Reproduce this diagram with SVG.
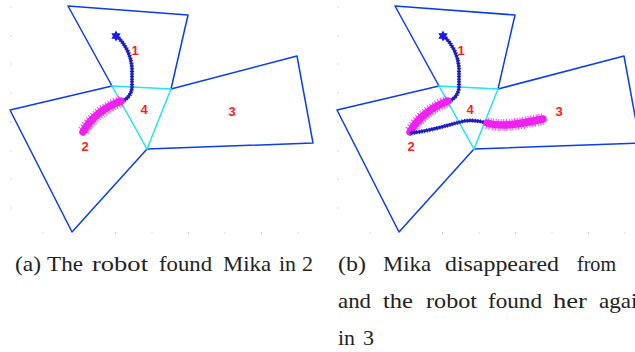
<svg xmlns="http://www.w3.org/2000/svg" width="635" height="352" viewBox="0 0 635 352">
<style>
.edge{fill:none;stroke:#0a3cf0;stroke-width:1.5;stroke-linejoin:round}
.cy{fill:none;stroke:#22e4f4;stroke-width:1.5}
.lbl{font-weight:bold;font-size:13px;fill:#ff1a1a;text-anchor:middle}
.cap{font-size:21px;fill:#222}
.tb{fill:none;stroke:#2424c8;stroke-width:2.8;stroke-linecap:round}
.tbd{fill:none;stroke:#1818b8;stroke-width:4.2;stroke-dasharray:1 1.6}
.tm{fill:none;stroke:#ee22ee;stroke-width:7.5;stroke-linecap:round}
.tmd{fill:none;stroke:#ff33ff;stroke-width:12;stroke-dasharray:1 1.8}
.dot{fill:#aaaaaa}
</style>
<defs>
<g id="ticks">
<rect class="dot" x="10.5" y="6.5" width="1" height="1"/>
<rect class="dot" x="10.5" y="35.5" width="1" height="1"/>
<rect class="dot" x="10.5" y="63.5" width="1" height="1"/>
<rect class="dot" x="10.5" y="92.5" width="1" height="1"/>
<rect class="dot" x="10.5" y="121.5" width="1" height="1"/>
<rect class="dot" x="10.5" y="150.5" width="1" height="1"/>
<rect class="dot" x="10.5" y="178.5" width="1" height="1"/>
<rect class="dot" x="10.5" y="207.5" width="1" height="1"/>
<rect class="dot" x="42.5" y="232.5" width="1" height="1"/>
<rect class="dot" x="115" y="232.5" width="1" height="1"/>
<rect class="dot" x="151.5" y="232.5" width="1" height="1"/>
<rect class="dot" x="188" y="232.5" width="1" height="1"/>
<rect class="dot" x="224.5" y="232.5" width="1" height="1"/>
<rect class="dot" x="261" y="232.5" width="1" height="1"/>
<rect class="dot" x="297.5" y="232.5" width="1" height="1"/>
</g>
<g id="map">
<path class="edge" d="M112,86 L68,6 L188,15 L171,89"/>
<path class="edge" d="M112,86 L10,110 L72,232 L147,149"/>
<path class="edge" d="M171,89 L297,56 L313,143 L147,149"/>
<path class="cy" d="M112,86 L171,89 L147,149 Z"/>
</g>
<polygon id="hexstar" points="0,-5.5 1.5,-2.7 4.7,-2.7 3.1,0 4.7,2.7 1.5,2.7 0,5.5 -1.5,2.7 -4.7,2.7 -3.1,0 -4.7,-2.7 -1.5,-2.7" fill="#1a1ae6"/>
<g id="trackA">
<path class="tb" d="M117,36 C125,44 131,54 132,68 L132,88 C131,96 126,100 120,102"/>
<path class="tbd" d="M117,36 C125,44 131,54 132,68 L132,88 C131,96 126,100 120,102"/>
<path class="tmd" d="M121,101 C108,106 92,116 83,132"/>
<path class="tm" d="M121,101 C108,106 92,116 83,132"/>
<use href="#hexstar" x="116" y="36"/>
</g>
</defs>

<g id="panel-a">
<use href="#ticks"/>
<use href="#map"/>
<use href="#trackA"/>
<g id="labels-a" font-family="Liberation Sans, Arial, sans-serif">
<text class="lbl" x="135" y="54.5">1</text>
<text class="lbl" x="144" y="113.5">4</text>
<text class="lbl" x="232" y="115.5">3</text>
<text class="lbl" x="85" y="150.5">2</text>
</g>
</g>

<g id="panel-b">
<use href="#ticks" x="327"/>
<use href="#map" x="327"/>
<use href="#trackA" x="327"/>
<g id="trackB">
<path class="tb" d="M411,133 C430,131 445,126 460,122 C470,119 480,121 487,123"/>
<path class="tbd" d="M411,133 C430,131 445,126 460,122 C470,119 480,121 487,123"/>
<path class="tmd" d="M487,123 C500,127 515,125 543,119"/>
<path class="tm" d="M487,123 C500,127 515,125 543,119"/>
</g>
<g id="labels-b" font-family="Liberation Sans, Arial, sans-serif">
<text class="lbl" x="461" y="54.5">1</text>
<text class="lbl" x="470" y="113.5">4</text>
<text class="lbl" x="559" y="115.5">3</text>
<text class="lbl" x="411" y="150.5">2</text>
</g>
</g>

<g id="captions" font-family="Liberation Serif, Times New Roman, serif">
<text class="cap" y="271"><tspan x="15" textLength="26" lengthAdjust="spacingAndGlyphs">(a)</tspan><tspan x="47" textLength="36" lengthAdjust="spacingAndGlyphs">The</tspan><tspan x="92" textLength="56" lengthAdjust="spacingAndGlyphs">robot</tspan><tspan x="159" textLength="53" lengthAdjust="spacingAndGlyphs">found</tspan><tspan x="223" textLength="48" lengthAdjust="spacingAndGlyphs">Mika</tspan><tspan x="279" textLength="17" lengthAdjust="spacingAndGlyphs">in</tspan><tspan x="302" textLength="11" lengthAdjust="spacingAndGlyphs">2</tspan></text>
<text class="cap" y="271"><tspan x="338" textLength="28" lengthAdjust="spacingAndGlyphs">(b)</tspan><tspan x="383" textLength="48" lengthAdjust="spacingAndGlyphs">Mika</tspan><tspan x="445" textLength="114" lengthAdjust="spacingAndGlyphs">disappeared</tspan><tspan x="577" textLength="39" lengthAdjust="spacingAndGlyphs">from</tspan></text>
<text class="cap" y="308"><tspan x="338" textLength="33" lengthAdjust="spacingAndGlyphs">and</tspan><tspan x="383" textLength="30" lengthAdjust="spacingAndGlyphs">the</tspan><tspan x="426" textLength="51" lengthAdjust="spacingAndGlyphs">robot</tspan><tspan x="488" textLength="54" lengthAdjust="spacingAndGlyphs">found</tspan><tspan x="553" textLength="34" lengthAdjust="spacingAndGlyphs">her</tspan><tspan x="599" textLength="50" lengthAdjust="spacingAndGlyphs">again</tspan></text>
<text class="cap" y="345"><tspan x="338" textLength="17" lengthAdjust="spacingAndGlyphs">in</tspan><tspan x="363" textLength="11" lengthAdjust="spacingAndGlyphs">3</tspan></text>
</g>
</svg>
